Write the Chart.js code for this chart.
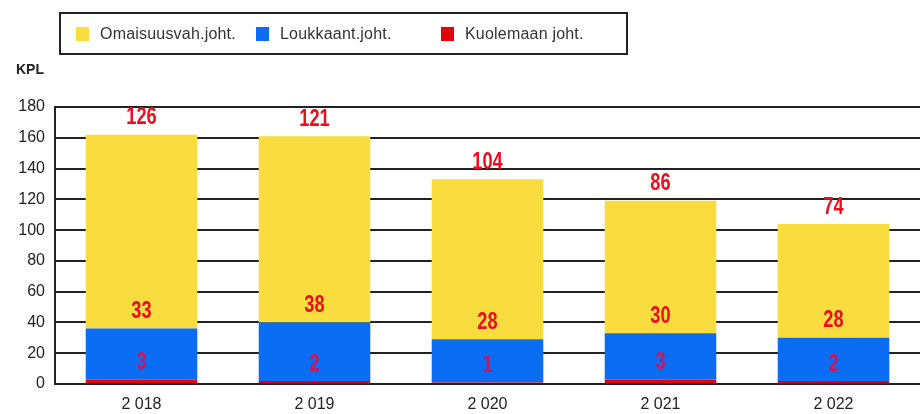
<!DOCTYPE html>
<html>
<head>
<meta charset="utf-8">
<script src="https://cdn.jsdelivr.net/npm/chart.js@4"></script>
<style>
  body { margin: 0; background: #fff; }
  #wrap { position: relative; width: 920px; height: 414px; overflow: hidden; }
  canvas { display: block; }
  #legend {
    position: absolute; left: 59px; top: 12px; width: 569px; height: 43px;
    border: 2px solid #222; box-sizing: border-box;
    font: 16px "Liberation Sans", Arial, sans-serif; color: #333;
  }
  #legend span.item { position: absolute; top: 11px; white-space: nowrap; letter-spacing: 0.2px; }
  #legend span.box { display: inline-block; width: 13px; height: 14px; vertical-align: -2px; margin-right: 11px; }
  #unit { position: absolute; left: 16px; top: 61px; font: bold 14px "Liberation Sans", Arial, sans-serif; color: #222; }
</style>
</head>
<body>
<div id="wrap">
  <canvas id="c" width="920" height="414"></canvas>
  <div id="legend"></div>
  <div id="unit">KPL</div>
</div>
<script>
// values
const years = ["2 018", "2 019", "2 020", "2 021", "2 022"];
const kuolemaan = [3, 2, 1, 3, 2];
const loukkaant = [33, 38, 28, 30, 28];
const omaisuus = [126, 121, 104, 86, 74];
const yTicks = [0, 20, 40, 60, 80, 100, 120, 140, 160, 180];

const RED = "#e6000a";
const BLUE = "#0b6cf4";
const YELLOW = "#f9dc3e";
// label colours: red on yellow, looks purplish where it sits on blue
const LABEL_COLORS = ["#c8185a", "#e8101c", "#e8101c"];

// legend (HTML box)
const legendItems = [
  { label: "Omaisuusvah.joht.", color: YELLOW, left: 15 },
  { label: "Loukkaant.joht.", color: BLUE, left: 195 },
  { label: "Kuolemaan joht.", color: RED, left: 380 }
];
const legendEl = document.getElementById("legend");
legendItems.forEach(it => {
  const s = document.createElement("span");
  s.className = "item";
  s.style.left = it.left + "px";
  s.innerHTML = `<span class="box" style="background:${it.color}"></span>${it.label}`;
  legendEl.appendChild(s);
});

// value labels above each segment (narrow bold)
const valueLabels = {
  id: "valueLabels",
  afterDatasetsDraw(chart) {
    const ctx = chart.ctx;
    chart.data.datasets.forEach((ds, i) => {
      chart.getDatasetMeta(i).data.forEach((bar, j) => {
        ctx.save();
        ctx.translate(bar.x, bar.y - 17);
        ctx.scale(0.76, 1);
        ctx.font = "bold 24px 'Liberation Sans', Arial, sans-serif";
        ctx.fillStyle = LABEL_COLORS[i];
        ctx.textAlign = "center";
        ctx.textBaseline = "middle";
        ctx.fillText(ds.data[j], 0, 0);
        ctx.restore();
      });
    });
  }
};

new Chart(document.getElementById("c"), {
  type: "bar",
  data: {
    labels: years,
    datasets: [
      { label: "Kuolemaan joht.", data: kuolemaan, backgroundColor: RED },
      { label: "Loukkaant.joht.", data: loukkaant, backgroundColor: BLUE },
      { label: "Omaisuusvah.joht.", data: omaisuus, backgroundColor: YELLOW }
    ]
  },
  options: {
    responsive: false,
    animation: false,
    layout: { padding: { top: 107, left: 0, right: -2, bottom: 0 } },
    plugins: { legend: { display: false }, tooltip: { enabled: false } },
    datasets: { bar: { barPercentage: 0.645, categoryPercentage: 1 } },
    scales: {
      x: {
        stacked: true,
        afterFit(axis) { axis.height = 30; },
        grid: { display: false, drawTicks: false },
        border: { color: "#222", width: 2 },
        ticks: { color: "#222", font: { size: 16, family: "'Liberation Sans', Arial" }, padding: 11 }
      },
      y: {
        stacked: true,
        min: 0, max: 180,
        afterFit(axis) { axis.width = 55; },
        afterBuildTicks(axis) { axis.ticks = yTicks.map(v => ({ value: v })); },
        grid: { color: "#222", lineWidth: 2, drawTicks: false },
        border: { color: "#222", width: 2 },
        ticks: { color: "#222", font: { size: 16, family: "'Liberation Sans', Arial" }, padding: 10 }
      }
    }
  },
  plugins: [valueLabels]
});
</script>
</body>
</html>
